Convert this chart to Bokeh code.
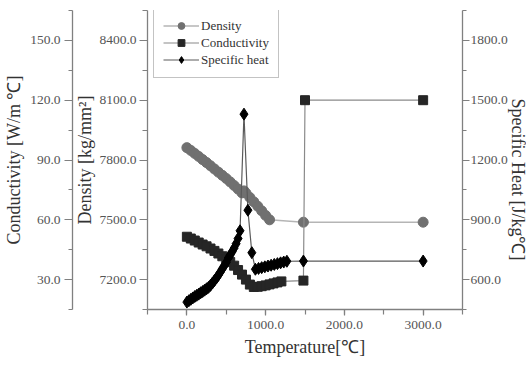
import numpy as np
from bokeh.plotting import figure
from bokeh.models import (Range1d, LinearAxis, SingleIntervalTicker,
                          PrintfTickFormatter, Legend, LegendItem, Title)
from bokeh.embed import file_html
from bokeh.resources import INLINE

# ---------------- data ----------------
temp_density = [0, 50, 100, 150, 200, 250, 300, 350, 400, 450, 500, 550, 600, 650, 700,
                725, 750, 800, 850, 900, 950, 1000, 1050, 1480, 3000]
density = [7862, 7848, 7833, 7818, 7802, 7787, 7771, 7755, 7739, 7723, 7707, 7690, 7672, 7654, 7635,
           7645, 7634, 7612, 7590, 7568, 7545, 7522, 7500, 7488, 7488]

temp_cond = [0, 50, 100, 150, 200, 250, 300, 350, 400, 450, 500, 550, 600, 650, 700, 750, 800,
             850, 900, 950, 1000, 1050, 1100, 1150, 1200, 1480, 1500, 3000]
conductivity = [51.5, 50.6, 49.6, 48.6, 47.6, 46.7, 45.6, 44.4, 43.1, 41.7, 40.3, 38.8, 37.0, 34.8,
                32.5, 30.0, 27.5, 26.3, 26.4, 26.7, 27.1, 27.6, 28.1, 28.6, 29.1, 29.5, 120, 120]

temp_sh = [0, 25, 50, 75, 100, 125, 150, 175, 200, 225, 250, 275, 300, 325, 350, 375, 400, 425,
           450, 475, 500, 525, 550, 575, 600, 625, 650, 675, 725, 775, 825,
           870, 910, 950, 990, 1030, 1070, 1110, 1150, 1190, 1230, 1270, 1480, 3000]
specific_heat = [487, 494, 501, 508, 515, 521, 527, 534, 540, 547, 554, 561, 571, 583, 595, 608, 622, 638,
                 654, 670, 686, 708, 724, 740, 758, 780, 806, 845, 1430, 948, 735,
                 652, 656, 660, 664, 668, 672, 676, 680, 684, 688, 692, 693, 693]

tick_label_fmt = "%.1f"

# ---------------- figure ----------------
p = figure(width=526, height=365, output_backend="svg", toolbar_location=None,
           x_range=Range1d(-500, 3500), y_range=Range1d(7050, 8550),
           min_border_left=147, min_border_right=61, min_border_top=10, min_border_bottom=56)
p.extra_y_ranges = {"cond": Range1d(15, 165), "sh": Range1d(450, 1950)}
p.outline_line_color = None
p.xgrid.visible = False
p.ygrid.visible = False
p.background_fill_color = "white"
p.border_fill_color = "white"

AX_COL = "#808080"
SERIF = "Liberation Serif"


def style_axis(ax, tick_out=7, minor_out=4, standoff=3, label_standoff=2):
    ax.axis_line_color = AX_COL
    ax.axis_line_width = 1.3
    ax.major_tick_line_color = AX_COL
    ax.minor_tick_line_color = AX_COL
    ax.major_tick_line_width = 1.2
    ax.minor_tick_line_width = 1.2
    ax.major_tick_in = 0
    ax.minor_tick_in = 0
    ax.major_tick_out = tick_out
    ax.minor_tick_out = minor_out
    ax.major_label_text_font = SERIF
    ax.major_label_text_font_size = "13.5px"
    ax.major_label_text_color = "#555555"
    ax.major_label_standoff = standoff
    ax.axis_label_text_font = SERIF
    ax.axis_label_text_font_size = "18px"
    ax.axis_label_text_font_style = "normal"
    ax.axis_label_text_color = "#333333"
    ax.axis_label_standoff = label_standoff
    ax.formatter = PrintfTickFormatter(format=tick_label_fmt)


# x axis
xax = p.xaxis[0]
xax.ticker = SingleIntervalTicker(interval=1000, num_minor_ticks=2)
style_axis(xax, tick_out=6, minor_out=5, standoff=5, label_standoff=5)
xax.axis_label = "Temperature[℃]"

# density axis (default left)
dax = p.yaxis[0]
dax.ticker = SingleIntervalTicker(interval=300, num_minor_ticks=2)
style_axis(dax, tick_out=8, minor_out=5, standoff=3, label_standoff=1)
dax.axis_label = "Density [kg/mm²]"

# conductivity axis
cax = LinearAxis(y_range_name="cond")
cax.ticker = SingleIntervalTicker(interval=30, num_minor_ticks=2)
style_axis(cax, tick_out=8, minor_out=4, standoff=4, label_standoff=3)
cax.axis_label = "Conductivity [W/m ℃]"
p.add_layout(cax, "left")

# specific heat axis
sax = LinearAxis(y_range_name="sh")
sax.ticker = SingleIntervalTicker(interval=300, num_minor_ticks=2)
style_axis(sax, tick_out=7, minor_out=4, standoff=1)
p.add_layout(sax, "right")

# ---------------- series ----------------
ld = p.line(temp_density, density, line_color="#b5b5b5", line_width=1.5)
sd = p.scatter(temp_density, density, marker="circle", size=10,
               fill_color="#707070", line_color="#707070")

lc = p.line(temp_cond, conductivity, y_range_name="cond", line_color="#8a8a8a", line_width=1.2)
sc = p.scatter(temp_cond, conductivity, y_range_name="cond", marker="square", size=9,
               fill_color="#262626", line_color="#262626")

ls = p.line(temp_sh, specific_heat, y_range_name="sh", line_color="#5a5a5a", line_width=1.2)
ss = p.scatter(temp_sh, specific_heat, y_range_name="sh", marker="diamond", size=12,
               fill_color="black", line_color="black")

legend = Legend(items=[LegendItem(label="Density", renderers=[ld, sd]),
                       LegendItem(label="Conductivity", renderers=[lc, sc]),
                       LegendItem(label="Specific heat", renderers=[ls, ss])],
                location=(6, 231), margin=0, padding=9, spacing=0,
                glyph_width=36, glyph_height=17, label_standoff=2, label_height=17,
                border_line_color="#888888", border_line_width=1.5,
                background_fill_color="white", background_fill_alpha=1.0,
                label_text_font=SERIF, label_text_font_size="13px", label_text_color="#333333")
p.add_layout(legend)

title_r = Title(text="Specific Heat [J/kg℃]", align="left", offset=88, standoff=-6,
                text_font=SERIF, text_font_size="18px", text_font_style="normal",
                text_color="#333333")
p.add_layout(title_r, "right")

open("out.html", "w").write(file_html(p, INLINE))
